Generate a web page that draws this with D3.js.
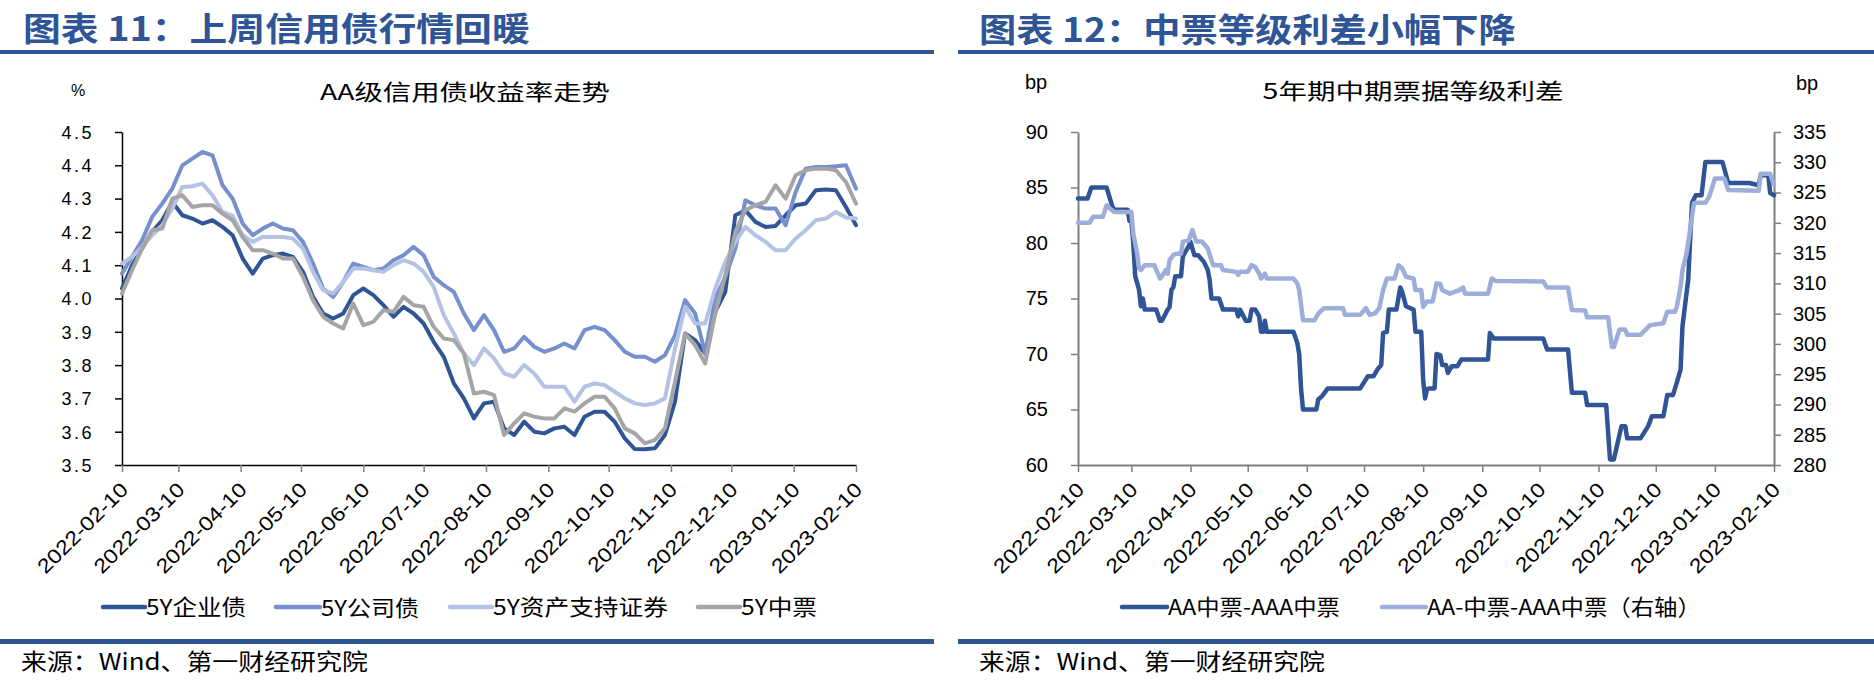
<!DOCTYPE html>
<html><head><meta charset="utf-8">
<script src="https://cdn.jsdelivr.net/npm/d3@7"></script>
<style>body{margin:0;background:#fff}svg{display:block}</style>
</head><body>
<svg id="chart" width="1874" height="683"></svg>
<script>
// ---------- data: left chart (AA credit bond yields, %) ----------
const yieldDates = ["2022-02-10","2022-02-15","2022-02-20","2022-02-25","2022-03-02","2022-03-07","2022-03-12","2022-03-17","2022-03-22","2022-03-27",
"2022-04-01","2022-04-06","2022-04-11","2022-04-16","2022-04-21","2022-04-26","2022-05-01","2022-05-06","2022-05-11","2022-05-16",
"2022-05-21","2022-05-26","2022-05-31","2022-06-05","2022-06-10","2022-06-15","2022-06-20","2022-06-25","2022-06-30","2022-07-05",
"2022-07-10","2022-07-15","2022-07-20","2022-07-25","2022-07-30","2022-08-04","2022-08-09","2022-08-14","2022-08-19","2022-08-24",
"2022-08-29","2022-09-03","2022-09-08","2022-09-13","2022-09-18","2022-09-23","2022-09-28","2022-10-03","2022-10-08","2022-10-13",
"2022-10-18","2022-10-23","2022-10-28","2022-11-02","2022-11-07","2022-11-12","2022-11-17","2022-11-22","2022-11-27","2022-12-02",
"2022-12-07","2022-12-12","2022-12-17","2022-12-22","2022-12-27","2023-01-01","2023-01-06","2023-01-11","2023-01-16","2023-01-21",
"2023-01-26","2023-01-31","2023-02-05","2023-02-10"];
const enterpriseBond = [4.03,4.10,4.15,4.20,4.235,4.29,4.25,4.24,4.225,4.235,
4.215,4.19,4.12,4.075,4.12,4.13,4.135,4.125,4.08,4.005,
3.955,3.94,3.955,4.01,4.03,4.01,3.98,3.945,3.975,3.955,
3.925,3.87,3.825,3.745,3.70,3.64,3.685,3.69,3.61,3.59,
3.63,3.60,3.595,3.61,3.615,3.59,3.645,3.66,3.66,3.63,
3.58,3.548,3.547,3.55,3.59,3.69,3.895,3.875,3.835,3.96,
4.02,4.25,4.265,4.23,4.215,4.218,4.25,4.28,4.285,4.325,
4.327,4.325,4.275,4.22];
const corporateBond = [4.075,4.125,4.175,4.245,4.285,4.33,4.40,4.42,4.44,4.43,
4.34,4.30,4.225,4.19,4.21,4.225,4.21,4.205,4.17,4.105,
4.03,4.005,4.05,4.105,4.095,4.085,4.09,4.115,4.13,4.155,
4.13,4.065,4.04,4.02,3.955,3.905,3.95,3.905,3.84,3.85,
3.885,3.855,3.84,3.85,3.865,3.85,3.905,3.915,3.905,3.875,
3.84,3.825,3.825,3.81,3.83,3.89,3.995,3.955,3.835,4.0,
4.065,4.15,4.295,4.28,4.27,4.27,4.22,4.32,4.39,4.395,
4.395,4.397,4.40,4.33];
const absBond = [4.105,4.125,4.155,4.19,4.22,4.27,4.335,4.337,4.345,4.31,
4.26,4.248,4.19,4.17,4.185,4.185,4.185,4.18,4.15,4.08,
4.025,4.015,4.05,4.09,4.09,4.085,4.08,4.10,4.115,4.105,
4.08,4.035,3.95,3.895,3.835,3.80,3.85,3.82,3.775,3.765,
3.80,3.775,3.735,3.735,3.735,3.69,3.735,3.745,3.74,3.72,
3.70,3.685,3.68,3.685,3.70,3.85,3.975,3.925,3.925,4.03,
4.11,4.17,4.215,4.19,4.17,4.145,4.145,4.18,4.205,4.235,
4.24,4.26,4.243,4.24];
const mtnBond = [4.015,4.085,4.15,4.205,4.21,4.30,4.31,4.275,4.28,4.28,
4.255,4.235,4.185,4.145,4.145,4.135,4.12,4.12,4.065,3.995,
3.945,3.925,3.91,3.985,3.92,3.93,3.965,3.96,4.005,3.98,
3.975,3.915,3.88,3.875,3.835,3.715,3.72,3.71,3.59,3.625,
3.655,3.645,3.64,3.64,3.67,3.66,3.685,3.705,3.705,3.67,
3.61,3.595,3.565,3.575,3.61,3.75,3.895,3.86,3.805,3.955,
4.07,4.2,4.265,4.28,4.29,4.34,4.3,4.37,4.385,4.39,
4.39,4.385,4.35,4.285];
const yieldSeriesNames = ["5Y企业债","5Y公司债","5Y资产支持证券","5Y中票"];
const yieldTicks = [3.5,3.6,3.7,3.8,3.9,4.0,4.1,4.2,4.3,4.4,4.5];
const monthTicks = ["2022-02-10","2022-03-10","2022-04-10","2022-05-10","2022-06-10","2022-07-10","2022-08-10",
"2022-09-10","2022-10-10","2022-11-10","2022-12-10","2023-01-10","2023-02-10"];

// ---------- data: right chart (5Y MTN rating spreads, bp) ----------
const spreadAADates = ["2022-02-10","2022-02-15","2022-02-17","2022-02-25","2022-02-28","2022-03-01","2022-03-08","2022-03-09","2022-03-10","2022-03-11",
"2022-03-12","2022-03-14","2022-03-15","2022-03-16","2022-03-17","2022-03-23","2022-03-25","2022-03-26","2022-03-29","2022-03-30",
"2022-03-31","2022-04-01","2022-04-02","2022-04-05","2022-04-06","2022-04-09","2022-04-10","2022-04-12","2022-04-14","2022-04-17",
"2022-04-19","2022-04-20","2022-04-21","2022-04-25","2022-04-27","2022-05-04","2022-05-05","2022-05-06","2022-05-09","2022-05-11",
"2022-05-12","2022-05-14","2022-05-16","2022-05-17","2022-05-18","2022-05-19","2022-05-20","2022-06-03","2022-06-05","2022-06-06",
"2022-06-07","2022-06-08","2022-06-15","2022-06-16","2022-06-18","2022-06-21","2022-07-08","2022-07-12","2022-07-15","2022-07-17",
"2022-07-19","2022-07-20","2022-07-22","2022-07-23","2022-07-27","2022-07-29","2022-07-30","2022-08-01","2022-08-05","2022-08-06",
"2022-08-09","2022-08-10","2022-08-11","2022-08-12","2022-08-13","2022-08-16","2022-08-17","2022-08-19","2022-08-20","2022-08-22",
"2022-08-23","2022-08-25","2022-08-28","2022-08-30","2022-09-13","2022-09-14","2022-09-16","2022-10-12","2022-10-14","2022-10-25",
"2022-10-27","2022-11-03","2022-11-04","2022-11-14","2022-11-16","2022-11-18","2022-11-22","2022-11-24","2022-11-25","2022-12-02",
"2022-12-06","2022-12-08","2022-12-14","2022-12-16","2022-12-19","2022-12-21","2022-12-23","2022-12-24","2022-12-27","2022-12-29",
"2022-12-31","2023-01-03","2023-01-05","2023-01-14","2023-01-17","2023-01-28","2023-02-02","2023-02-03","2023-02-07","2023-02-08",
"2023-02-10"];
const spreadAA = [84,84,85,85,83.3,83,83,82,82,80,
77,75.8,74.3,75,74,74,73,73,74,74.2,
75.8,76,77,77,78.8,79.7,80.1,78.9,78.9,78.3,
77.6,76.7,75,75,74,74,73.4,74,73,73,
74,74,73.4,72,72,73,72,72,71,70,
66.8,65,65,65.9,66.2,66.9,66.9,68,68,68.6,
69,71.9,72,74,74,76,75.6,74.3,74,72,
72,67.7,66,66.8,66.9,66.9,70,69.9,69,69,
68.3,68.9,68.9,69.5,69.5,71.9,71.4,71.4,70.4,70.4,
66.5,66.5,65.4,65.4,60.5,60.5,63.5,63.5,62.4,62.4,
63.5,64.4,64.4,66.3,66.3,67.4,68.6,72.5,76.7,83.6,
84.3,84.3,87.3,87.3,85.4,85.4,85.2,86.1,86.1,84.5,
84.3];
const spreadAAminusDates = ["2022-02-10","2022-02-16","2022-02-18","2022-02-23","2022-02-25","2022-02-27","2022-03-01","2022-03-10","2022-03-11","2022-03-13",
"2022-03-14","2022-03-15","2022-03-17","2022-03-22","2022-03-25","2022-03-27","2022-03-28","2022-03-29","2022-03-30","2022-04-01",
"2022-04-03","2022-04-05","2022-04-06","2022-04-09","2022-04-11","2022-04-13","2022-04-16","2022-04-19","2022-04-21","2022-04-22",
"2022-04-26","2022-04-27","2022-05-04","2022-05-05","2022-05-06","2022-05-10","2022-05-12","2022-05-14","2022-05-16","2022-05-17",
"2022-05-19","2022-05-20","2022-06-03","2022-06-05","2022-06-06","2022-06-08","2022-06-14","2022-06-16","2022-06-19","2022-06-29",
"2022-06-30","2022-07-08","2022-07-11","2022-07-13","2022-07-16","2022-07-18","2022-07-20","2022-07-22","2022-07-26","2022-07-28",
"2022-07-30","2022-08-01","2022-08-05","2022-08-06","2022-08-09","2022-08-10","2022-08-12","2022-08-15","2022-08-17","2022-08-19",
"2022-08-20","2022-08-24","2022-08-29","2022-08-31","2022-09-01","2022-09-13","2022-09-15","2022-09-17","2022-10-12","2022-10-14",
"2022-10-25","2022-10-27","2022-11-03","2022-11-04","2022-11-15","2022-11-17","2022-11-18","2022-11-21","2022-11-24","2022-11-25",
"2022-12-02","2022-12-07","2022-12-14","2022-12-16","2022-12-20","2022-12-21","2022-12-23","2022-12-24","2022-12-26","2022-12-28",
"2022-12-30","2022-12-31","2023-01-05","2023-01-07","2023-01-10","2023-01-15","2023-01-17","2023-02-02","2023-02-03","2023-02-08",
"2023-02-10"];
const spreadAAminus = [320,320,321,321,322.9,322.3,321.8,321.8,318.2,315,
312.5,312.2,313,313,310.8,311.6,312.2,311.6,313.8,314.7,
314.9,314.9,316.9,317.1,318.8,316.9,316.9,315.8,313.8,313,
313,312.2,311.9,311.4,311.9,311.9,313,312.7,311.6,310.8,
311.6,310.8,310.8,310,308.9,303.9,303.9,305,305.9,305.9,
304.8,304.8,305.9,304.8,305.1,305.9,308.9,310.8,310.8,313,
312.5,311.1,310.8,308.9,308.9,306.1,307,307,310,309.9,
308.9,308.3,308.9,309.3,308.3,308.3,310.8,310.4,310.3,309.3,
309.3,305.6,305.5,304.4,304.4,299.5,299.5,302.4,302.4,301.5,
301.5,303.1,303.4,305.3,305.3,306.1,309.4,312.2,314.7,318.8,
323.2,323.3,323.3,324.3,327.3,327.3,325.4,325.3,328.1,328.1,
326.3];
const spreadSeriesNames = ["AA中票-AAA中票","AA-中票-AAA中票（右轴）"];
const spreadLeftTicks = [60,65,70,75,80,85,90];
const spreadRightTicks = [280,285,290,295,300,305,310,315,320,325,330,335];

// ---------- drawing ----------
const svg = d3.select("#chart");
const parseDate = d3.timeParse("%Y-%m-%d");
const BLUE = "#2F5597";
const CJK = "'Noto Sans CJK SC','Noto Sans',sans-serif";
const LAT = "'Liberation Sans',Arial,sans-serif";

function addText(str, x, y, o) {
  const t = svg.append("text").text(str)
    .attr("font-family", o.family || CJK).attr("font-size", o.size)
    .attr("font-weight", o.weight || 400).attr("fill", o.fill || "#000")
    .attr("text-anchor", o.anchor || "start").attr("dominant-baseline", "central");
  let sx = o.sx || 1;
  if (o.width) sx = o.width / t.node().getComputedTextLength();
  t.attr("transform", `translate(${x},${y}) scale(${sx},1)`);
  return t;
}

// header / footer bars
[[0, 934], [958, 1874]].forEach(([a, b]) => {
  svg.append("rect").attr("x", a).attr("y", 50).attr("width", b - a).attr("height", 4).attr("fill", BLUE);
  svg.append("rect").attr("x", a).attr("y", 639).attr("width", b - a).attr("height", 5).attr("fill", BLUE);
});
addText("图表 11：上周信用债行情回暖", 23, 27, {size: 33, weight: 700, fill: BLUE, width: 507});
addText("图表 12：中票等级利差小幅下降", 979, 27, {size: 33, weight: 700, fill: BLUE, width: 537});
addText("来源：Wind、第一财经研究院", 21, 660, {size: 23, width: 347});
addText("来源：Wind、第一财经研究院", 979, 660, {size: 23, width: 346});

// ---------- left chart ----------
const x1 = d3.scaleTime().domain([parseDate("2022-02-10"), parseDate("2023-02-10")]).range([122, 856]);
const y1 = d3.scaleLinear().domain([3.5, 4.5]).range([465, 132]);
addText("AA级信用债收益率走势", 465, 90, {size: 22, anchor: "middle", width: 290});
addText("%", 78, 90, {size: 16, family: LAT, anchor: "middle"});

const gy1 = svg.append("g").attr("transform", "translate(122,0)")
  .call(d3.axisLeft(y1).tickValues(yieldTicks).tickSize(7).tickSizeOuter(0).tickFormat(d3.format(".1f")));
gy1.attr("font-family", LAT).attr("font-size", 18);
gy1.select(".domain").attr("stroke", "#000").attr("stroke-width", 1.5);
gy1.selectAll(".tick line").attr("stroke", "#000").attr("stroke-width", 1.5);
gy1.selectAll(".tick text").attr("x", null).attr("dy", "0.35em").attr("fill", "#000")
  .attr("letter-spacing", 2.5).attr("transform", "translate(-28,0)");

const gx1 = svg.append("g").attr("transform", "translate(0,465)")
  .call(d3.axisBottom(x1).tickValues(monthTicks.map(parseDate)).tickSize(7).tickSizeOuter(0)
    .tickFormat((d, i) => monthTicks[i]));
gx1.attr("font-family", LAT).attr("font-size", 20);
gx1.select(".domain").attr("stroke", "#000").attr("stroke-width", 1.5);
gx1.selectAll(".tick line").attr("stroke", "#808080").attr("stroke-width", 1.5);
gx1.selectAll(".tick text").attr("y", 0).attr("dy", "0.35em").attr("fill", "#000").attr("text-anchor", "end")
  .attr("transform", "translate(2,21) rotate(-45) scale(1.16,1)");

const yieldColors = ["#2F5597", "#7690CE", "#B4C2E4", "#A5A5A5"];
[enterpriseBond, corporateBond, absBond, mtnBond].forEach((vals, si) => {
  const pts = yieldDates.map((d, i) => ({date: parseDate(d), v: vals[i]}));
  svg.append("path").datum(pts)
    .attr("fill", "none").attr("stroke", yieldColors[si]).attr("stroke-width", 4)
    .attr("stroke-linejoin", "round").attr("stroke-linecap", "round")
    .attr("d", d3.line().x(p => x1(p.date)).y(p => y1(p.v)));
});

const leftLegend = [[103, 145, 246], [276, 320, 419], [450, 492, 668], [698, 740, 817]];
yieldSeriesNames.forEach((name, i) => {
  const [a, b, e] = leftLegend[i];
  svg.append("line").attr("x1", a).attr("x2", b).attr("y1", 607).attr("y2", 607)
    .attr("stroke", yieldColors[i]).attr("stroke-width", 4.5).attr("stroke-linecap", "round");
  addText(name, b + 1, 606, {size: 22, width: e - b - 1});
});

// ---------- right chart ----------
const x2 = d3.scaleTime().domain([parseDate("2022-02-10"), parseDate("2023-02-10")]).range([1078, 1774]);
const yL = d3.scaleLinear().domain([60, 90]).range([465, 132]);
const yR = d3.scaleLinear().domain([280, 335]).range([465, 132]);
addText("5年期中期票据等级利差", 1413, 89, {size: 22, anchor: "middle", width: 301});
addText("bp", 1036, 82, {size: 20, family: LAT, anchor: "middle"});
addText("bp", 1807, 83, {size: 20, family: LAT, anchor: "middle"});

const AX = "#7F7F7F";
function styleAxis(g) {
  g.attr("font-family", LAT).attr("font-size", 20);
  g.select(".domain").attr("stroke", AX).attr("stroke-width", 2);
  g.selectAll(".tick line").attr("stroke", AX).attr("stroke-width", 1.5);
  g.selectAll(".tick text").attr("fill", "#000");
}
const gL = svg.append("g").attr("transform", "translate(1078,0)")
  .call(d3.axisLeft(yL).tickValues(spreadLeftTicks).tickSize(7).tickSizeOuter(0).tickPadding(23));
styleAxis(gL);
const gR = svg.append("g").attr("transform", "translate(1774,0)")
  .call(d3.axisRight(yR).tickValues(spreadRightTicks).tickSize(7).tickSizeOuter(0).tickPadding(12));
styleAxis(gR);
const gx2 = svg.append("g").attr("transform", "translate(0,465)")
  .call(d3.axisBottom(x2).tickValues(monthTicks.map(parseDate)).tickSize(7).tickSizeOuter(0)
    .tickFormat((d, i) => monthTicks[i]));
styleAxis(gx2);
gx2.selectAll(".tick text").attr("y", 0).attr("dy", "0.35em").attr("text-anchor", "end")
  .attr("transform", "translate(2,21) rotate(-45) scale(1.16,1)");

const spreadColors = ["#2F5597", "#9DAEDB"];
const aaPts = spreadAADates.map((d, i) => ({date: parseDate(d), v: spreadAA[i]}));
const aamPts = spreadAAminusDates.map((d, i) => ({date: parseDate(d), v: spreadAAminus[i]}));
svg.append("path").datum(aaPts).attr("fill", "none").attr("stroke", spreadColors[0]).attr("stroke-width", 4.5)
  .attr("stroke-linejoin", "round").attr("stroke-linecap", "round")
  .attr("d", d3.line().x(p => x2(p.date)).y(p => yL(p.v)));
svg.append("path").datum(aamPts).attr("fill", "none").attr("stroke", spreadColors[1]).attr("stroke-width", 4.5)
  .attr("stroke-linejoin", "round").attr("stroke-linecap", "round")
  .attr("d", d3.line().x(p => x2(p.date)).y(p => yR(p.v)));

const rightLegend = [[1122, 1167, 1340], [1382, 1426, 1701]];
spreadSeriesNames.forEach((name, i) => {
  const [a, b, e] = rightLegend[i];
  svg.append("line").attr("x1", a).attr("x2", b).attr("y1", 607).attr("y2", 607)
    .attr("stroke", spreadColors[i]).attr("stroke-width", 4.5).attr("stroke-linecap", "round");
  addText(name, b + 1, 606, {size: 22, width: e - b - 1});
});
</script>
</body></html>
